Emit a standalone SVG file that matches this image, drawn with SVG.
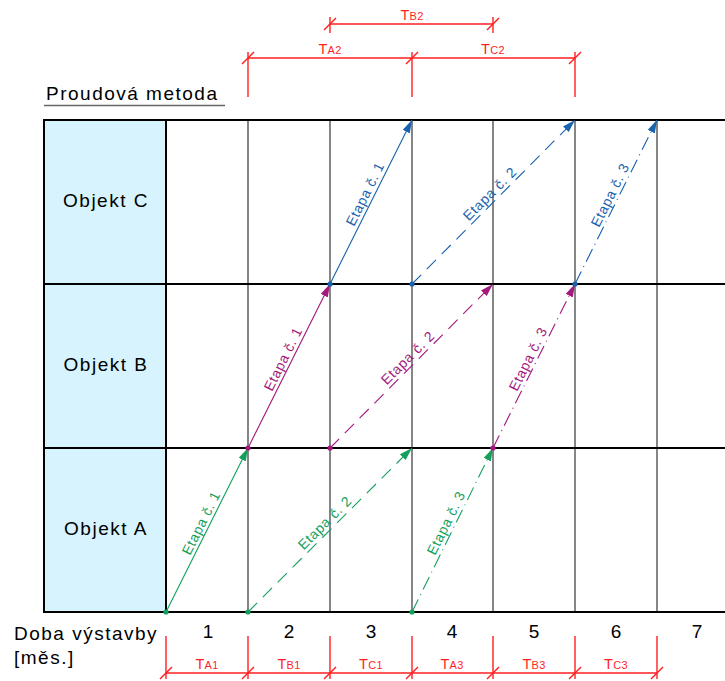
<svg xmlns="http://www.w3.org/2000/svg" width="725" height="681" viewBox="0 0 725 681">
  <style>
    text { font-family: "Liberation Sans", Arial, sans-serif; fill: #000; }
    .hl { stroke: #000; stroke-width: 2; }
    .vl { stroke: #444; stroke-width: 1.3; }
    .dim { stroke: #ff1f1f; stroke-width: 1.4; fill: none; }
    .dimt { fill: #ff1f1f; font-size: 14.5px; text-anchor: middle; letter-spacing: 0.3px; }
    .sub { font-size: 11px; }
    .big { font-size: 19px; letter-spacing: 1.5px; }
    .obj { text-anchor: middle; }
    .num { font-size: 19px; text-anchor: middle; }
    .lab { font-size: 14px; text-anchor: middle; letter-spacing: 0.6px; }
    .ta { fill: #13a05c; }
    .tb { fill: #a3197c; }
    .tc { fill: #1a62ad; }
    .a { stroke: #13a05c; }
    .b { stroke: #a3197c; }
    .c { stroke: #1a62ad; }
    .arr { stroke-width: 1.1; fill: none; }
    .dash { stroke-dasharray: 13 8; }
    .dashdot { stroke-dasharray: 14 5 1 5; }
  </style>
  <defs>
    <marker id="hA" markerUnits="userSpaceOnUse" markerWidth="14" markerHeight="8" refX="13" refY="4" orient="auto">
      <path d="M0,0 L13,4 L0,8 Z" fill="#13a05c"/>
    </marker>
    <marker id="hB" markerUnits="userSpaceOnUse" markerWidth="14" markerHeight="8" refX="13" refY="4" orient="auto">
      <path d="M0,0 L13,4 L0,8 Z" fill="#a3197c"/>
    </marker>
    <marker id="hC" markerUnits="userSpaceOnUse" markerWidth="14" markerHeight="8" refX="13" refY="4" orient="auto">
      <path d="M0,0 L13,4 L0,8 Z" fill="#1a62ad"/>
    </marker>
    <path id="tick" d="M-6,6 L6,-6" class="dim"/>
  </defs>

  <!-- title -->
  <g id="title">
    <text class="big" x="46" y="100">Proudová metoda</text>
    <line x1="44" y1="105.5" x2="225" y2="105.5" stroke="#666" stroke-width="1.3"/>
  </g>

  <!-- object header cells -->
  <g id="header-column">
    <rect x="44" y="120" width="122" height="492" fill="#d7f3fd"/>
  </g>

  <!-- grid -->
  <g id="grid">
    <line class="vl" x1="248" y1="120" x2="248" y2="612"/>
    <line class="vl" x1="330" y1="120" x2="330" y2="612"/>
    <line class="vl" x1="412" y1="120" x2="412" y2="612"/>
    <line class="vl" x1="493" y1="120" x2="493" y2="612"/>
    <line class="vl" x1="575" y1="120" x2="575" y2="612"/>
    <line class="vl" x1="657" y1="120" x2="657" y2="612"/>
    <line class="hl" x1="44" y1="120" x2="725" y2="120"/>
    <line class="hl" x1="44" y1="284" x2="725" y2="284"/>
    <line class="hl" x1="44" y1="448" x2="725" y2="448"/>
    <line class="hl" x1="44" y1="612" x2="725" y2="612"/>
    <line class="hl" x1="44" y1="119" x2="44" y2="613"/>
    <line class="hl" x1="166" y1="119" x2="166" y2="613"/>
  </g>

  <g id="objekt-c"><text class="big obj" x="106" y="207">Objekt C</text></g>
  <g id="objekt-b"><text class="big obj" x="106" y="371">Objekt B</text></g>
  <g id="objekt-a"><text class="big obj" x="106" y="535">Objekt A</text></g>

  <!-- time axis -->
  <g id="axis">
    <text class="big" x="14" y="640">Doba výstavby</text>
    <text class="big" x="14" y="664">[měs.]</text>
    <text class="num" x="208" y="638">1</text>
    <text class="num" x="289" y="638">2</text>
    <text class="num" x="371" y="638">3</text>
    <text class="num" x="452" y="638">4</text>
    <text class="num" x="534" y="638">5</text>
    <text class="num" x="616" y="638">6</text>
    <text class="num" x="697" y="638">7</text>
  </g>

  <!-- stage arrows -->
  <g id="connectors">
    <!-- object A -->
    <line class="arr a" x1="166" y1="612" x2="248" y2="448" marker-end="url(#hA)"/>
    <line class="arr a dash" x1="248" y1="612" x2="412" y2="448" marker-end="url(#hA)"/>
    <line class="arr a dashdot" x1="412" y1="612" x2="493" y2="448" marker-end="url(#hA)"/>
    <!-- object B -->
    <line class="arr b" x1="248" y1="448" x2="330" y2="284" marker-end="url(#hB)"/>
    <line class="arr b dash" x1="330" y1="448" x2="493" y2="284" marker-end="url(#hB)"/>
    <line class="arr b dashdot" x1="493" y1="448" x2="575" y2="284" marker-end="url(#hB)"/>
    <!-- object C -->
    <line class="arr c" x1="330" y1="284" x2="412" y2="120" marker-end="url(#hC)"/>
    <line class="arr c dash" x1="412" y1="284" x2="575" y2="120" marker-end="url(#hC)"/>
    <line class="arr c dashdot" x1="575" y1="284" x2="657" y2="120" marker-end="url(#hC)"/>
    <!-- start points -->
    <g stroke="none">
      <circle cx="166" cy="612" r="2.6" fill="#13a05c"/>
      <circle cx="248" cy="612" r="2.6" fill="#13a05c"/>
      <circle cx="412" cy="612" r="2.6" fill="#13a05c"/>
      <circle cx="248" cy="448" r="2.6" fill="#a3197c"/>
      <circle cx="330" cy="448" r="2.6" fill="#a3197c"/>
      <circle cx="493" cy="448" r="2.6" fill="#a3197c"/>
      <circle cx="330" cy="284" r="2.6" fill="#1a62ad"/>
      <circle cx="412" cy="284" r="2.6" fill="#1a62ad"/>
      <circle cx="575" cy="284" r="2.6" fill="#1a62ad"/>
    </g>
  </g>

  <!-- stage labels -->
  <g id="labels-a">
    <text class="lab ta" transform="translate(209,527) rotate(-63.43)" x="0" y="-4">Etapa č. 1</text>
    <text class="lab ta" transform="translate(331,529) rotate(-45)" x="0" y="-4">Etapa č. 2</text>
    <text class="lab ta" transform="translate(454,527) rotate(-63.43)" x="0" y="-4">Etapa č. 3</text>
  </g>
  <g id="labels-b">
    <text class="lab tb" transform="translate(291,363) rotate(-63.43)" x="0" y="-4">Etapa č. 1</text>
    <text class="lab tb" transform="translate(414,364) rotate(-45)" x="0" y="-4">Etapa č. 2</text>
    <text class="lab tb" transform="translate(536,363) rotate(-63.43)" x="0" y="-4">Etapa č. 3</text>
  </g>
  <g id="labels-c">
    <text class="lab tc" transform="translate(373,198) rotate(-63.43)" x="0" y="-4">Etapa č. 1</text>
    <text class="lab tc" transform="translate(496,200) rotate(-45)" x="0" y="-4">Etapa č. 2</text>
    <text class="lab tc" transform="translate(618,199) rotate(-63.43)" x="0" y="-4">Etapa č. 3</text>
  </g>

  <!-- upper dimensions -->
  <g id="dim-top">
    <line class="dim" x1="330" y1="24" x2="493" y2="24"/>
    <line class="dim" x1="330" y1="17" x2="330" y2="33"/>
    <line class="dim" x1="493" y1="17" x2="493" y2="33"/>
    <use href="#tick" x="330" y="24"/>
    <use href="#tick" x="493" y="24"/>
    <text class="dimt" x="412" y="20">T<tspan class="sub">B2</tspan></text>

    <line class="dim" x1="248" y1="58" x2="575" y2="58"/>
    <line class="dim" x1="248" y1="52" x2="248" y2="97"/>
    <line class="dim" x1="412" y1="52" x2="412" y2="97"/>
    <line class="dim" x1="575" y1="52" x2="575" y2="97"/>
    <use href="#tick" x="248" y="58"/>
    <use href="#tick" x="412" y="58"/>
    <use href="#tick" x="575" y="58"/>
    <text class="dimt" x="330" y="54">T<tspan class="sub">A2</tspan></text>
    <text class="dimt" x="493" y="54">T<tspan class="sub">C2</tspan></text>
  </g>

  <!-- lower dimensions -->
  <g id="dim-bottom">
    <line class="dim" x1="166" y1="673" x2="657" y2="673"/>
    <line class="dim" x1="166" y1="636" x2="166" y2="679"/>
    <line class="dim" x1="248" y1="636" x2="248" y2="679"/>
    <line class="dim" x1="330" y1="636" x2="330" y2="679"/>
    <line class="dim" x1="412" y1="636" x2="412" y2="679"/>
    <line class="dim" x1="493" y1="636" x2="493" y2="679"/>
    <line class="dim" x1="575" y1="636" x2="575" y2="679"/>
    <line class="dim" x1="657" y1="636" x2="657" y2="679"/>
    <use href="#tick" x="166" y="673"/>
    <use href="#tick" x="248" y="673"/>
    <use href="#tick" x="330" y="673"/>
    <use href="#tick" x="412" y="673"/>
    <use href="#tick" x="493" y="673"/>
    <use href="#tick" x="575" y="673"/>
    <use href="#tick" x="657" y="673"/>
    <text class="dimt" x="207" y="669">T<tspan class="sub">A1</tspan></text>
    <text class="dimt" x="289" y="669">T<tspan class="sub">B1</tspan></text>
    <text class="dimt" x="371" y="669">T<tspan class="sub">C1</tspan></text>
    <text class="dimt" x="452" y="669">T<tspan class="sub">A3</tspan></text>
    <text class="dimt" x="534" y="669">T<tspan class="sub">B3</tspan></text>
    <text class="dimt" x="616" y="669">T<tspan class="sub">C3</tspan></text>
  </g>
</svg>
